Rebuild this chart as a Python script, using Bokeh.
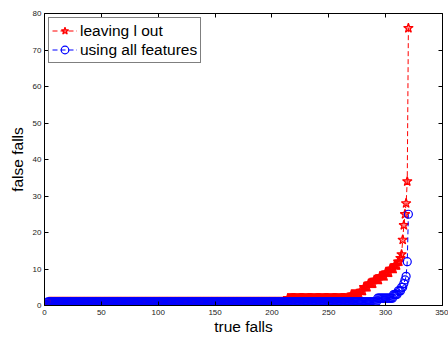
import numpy as np
from bokeh.plotting import figure
from bokeh.models import LinearAxis, Range1d, FixedTicker, CustomJSTickFormatter
from bokeh.embed import file_html
from bokeh.resources import INLINE

# Data (run-length form: level, how many consecutive points)
red_levels = [0, 1, 2, 3, 4, 5, 6, 7, 8, 9, 10, 11, 12, 13, 14, 18, 22, 25, 28, 34, 76]
red_counts = [3, 210, 56, 8, 3, 4, 5, 5, 5, 4, 4, 3, 2, 1, 1, 1, 1, 1, 1, 1, 1]
blue_levels = [0, 1, 2, 3, 4, 5, 6, 7, 8, 12, 25]
blue_counts = [2, 290, 14, 4, 3, 2, 1, 1, 1, 1, 1]

x_ticks = [0, 50, 100, 150, 200, 250, 300, 350]
y_ticks = [0, 10, 20, 30, 40, 50, 60, 70, 80]

red_y = np.repeat(red_levels, red_counts)
blue_y = np.repeat(blue_levels, blue_counts)
red_x = np.arange(1, len(red_y) + 1)
blue_x = np.arange(1, len(blue_y) + 1)

FONT = "Liberation Sans"

p = figure(width=448, height=339, output_backend="svg", toolbar_location=None,
           x_range=Range1d(0, 350), y_range=Range1d(0, 80),
           min_border_left=44, min_border_right=6, min_border_top=13, min_border_bottom=34)
p.background_fill_color = "white"
p.border_fill_color = "white"
p.outline_line_color = "black"
p.outline_line_width = 1
p.xgrid.visible = False
p.ygrid.visible = False

for ax, ticks in ((p.xaxis[0], x_ticks), (p.yaxis[0], y_ticks)):
    ax.ticker = FixedTicker(ticks=ticks)
    ax.major_tick_in = 4
    ax.major_tick_out = 0
    ax.minor_tick_line_color = None
    ax.axis_line_color = "black"
    ax.major_tick_line_color = "black"
    ax.major_label_text_font = FONT
    ax.major_label_text_font_size = "8px"
    ax.major_label_text_color = "#222222"
    ax.axis_label_text_font = FONT
    ax.axis_label_text_font_size = "15.5px"
    ax.axis_label_text_font_style = "normal"
    ax.axis_label_text_color = "black"

p.xaxis.axis_label = "true falls"
p.yaxis.axis_label = "false falls"
p.xaxis.major_label_standoff = 4
p.yaxis.major_label_standoff = 3
p.xaxis.axis_label_standoff = 0
p.yaxis.axis_label_standoff = 4

# mirror ticks on top and right (MATLAB box style), no labels
for loc, ticks in (("above", x_ticks), ("right", y_ticks)):
    ax = LinearAxis(ticker=FixedTicker(ticks=ticks),
                    formatter=CustomJSTickFormatter(code="return ''"))
    ax.major_tick_in = 4
    ax.major_tick_out = 0
    ax.minor_tick_line_color = None
    ax.axis_line_color = None
    ax.major_label_standoff = 0
    p.add_layout(ax, loc)

p.line(red_x, red_y, line_color="red", line_dash="5 3", line_width=1, legend_label="leaving l out")
p.scatter(red_x, red_y, marker="star", size=10, line_color="red", fill_color="red", fill_alpha=0.45,
          line_width=1.2, legend_label="leaving l out")
p.line(blue_x, blue_y, line_color="blue", line_dash="5 3", line_width=1, legend_label="using all features")
p.scatter(blue_x, blue_y, marker="circle", size=8, line_color="blue", fill_color=None,
          line_width=1.2, legend_label="using all features")

leg = p.legend[0]
leg.location = "top_left"
leg.margin = 4
leg.padding = 3
leg.spacing = 0
leg.border_line_color = "black"
leg.border_line_width = 1
leg.background_fill_color = "white"
leg.background_fill_alpha = 1
leg.label_text_font = FONT
leg.label_text_font_size = "15.5px"
leg.label_text_color = "black"
leg.glyph_width = 25
leg.glyph_height = 19
leg.label_height = 19
leg.label_standoff = 3

open("out.html", "w").write(file_html(p, INLINE))
